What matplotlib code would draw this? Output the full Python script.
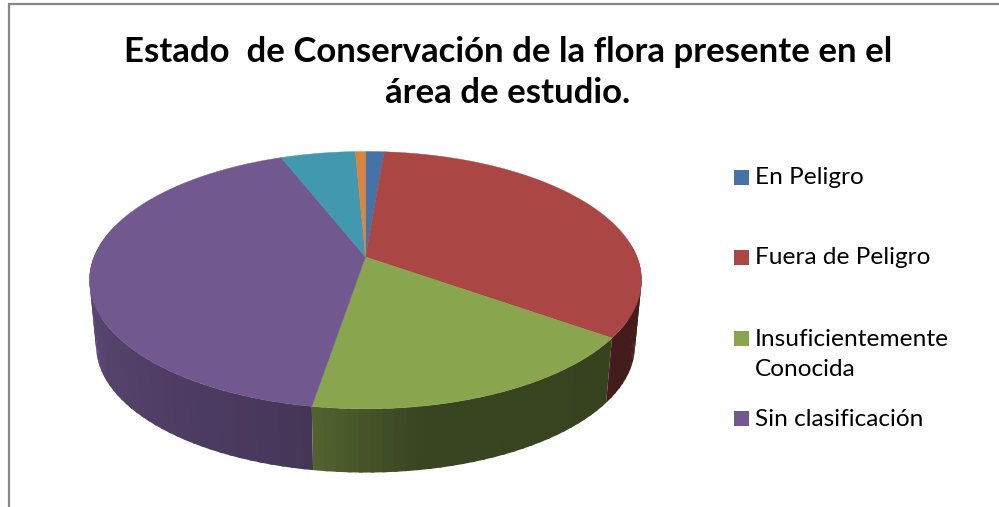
import numpy as np
import matplotlib
matplotlib.use('Agg')
import matplotlib.pyplot as plt
from matplotlib.patches import Polygon, Rectangle

# datos de la torta (porcentaje aprox.)
categorias = ['En Peligro', 'Fuera de Peligro', 'Insuficientemente\nConocida', 'Sin clasificación', 'Otros 1', 'Otros 2']
valores = [1.3, 33.6, 17.7, 41.5, 5.2, 0.7]
colores = ['#4572A7', '#AA4643', '#89A54E', '#71588F', '#4198AF', '#DB843D']
titulo = 'Estado  de Conservación de la flora presente en el\nárea de estudio.'

plt.rcParams['font.family'] = ['Lato', 'DejaVu Sans']

fig = plt.figure(figsize=(9.99, 5.07), dpi=100)
ax = fig.add_axes([0, 0, 1, 1])
ax.set_xlim(0, 999)
ax.set_ylim(507, 0)
ax.axis('off')

# perspectiva del disco
CX, CY = 365.5, 257.0
A, B, K = 271.5, 124.5, 0.18
ALTO, ESC_X, ESC_Y = 66.0, 0.976, 0.985


def borde(theta, inferior=False):
    u, v = np.sin(theta), np.cos(theta)
    w = 1 + K * v
    x, y = A * u / w, -B * v / w
    if inferior:
        return CX + ESC_X * x, CY + ALTO + ESC_Y * y
    return CX + x, CY + y


def oscurecer(color, f):
    return tuple(c * f for c in matplotlib.colors.to_rgb(color))


bordes = np.radians(np.concatenate([[0], np.cumsum(valores)]) * 3.6)

# lateral visible, con sombreado segun el angulo
# se dibuja de izquierda a derecha con solape para que no queden rayas
for i in reversed(range(len(colores))):
    col = colores[i]
    ini, fin = max(bordes[i], np.radians(85)), min(bordes[i + 1], np.radians(285))
    if fin <= ini:
        continue
    n = max(int(np.degrees(fin - ini) / 2), 2)
    ts = np.linspace(ini, fin, n + 1)
    for t0, t1 in zip(ts[:-1][::-1], ts[1:][::-1]):
        arco = np.linspace(max(t0 - 0.012, ini), t1, 4)
        x0, y0 = borde(arco)
        x1, y1 = borde(arco[::-1], True)
        f = np.interp(np.degrees(t0), [95, 125, 170, 190, 268], [0.40, 0.40, 0.42, 0.62, 0.84])
        ax.add_patch(Polygon(np.column_stack([np.r_[x0, x1], np.r_[y0, y1]]),
                             closed=True, fc=oscurecer(col, f), ec='none'))

# cara superior
for i, col in enumerate(colores):
    ts = np.linspace(bordes[i], bordes[i + 1], 200)
    x, y = borde(ts)
    pts = np.column_stack([np.r_[CX, x], np.r_[CY, y]])
    ax.add_patch(Polygon(pts, closed=True, fc=col, ec=col, lw=0.3))

# marco del grafico
ax.plot([8.5, 8.5, 999], [507, 4, 4], color='#868686', lw=1.6, solid_joinstyle='miter')

ax.text(508, 72.5, titulo, ha='center', va='center', fontsize=25, fontweight='bold',
        color='black', linespacing=1.32)

# leyenda
filas_y = [177.5, 257.5, 338.5, 418.5]
for nombre, col, yy in zip(categorias[:4], colores[:4], filas_y):
    ax.add_patch(Rectangle((734, yy - 7.5), 15, 15, fc=col, ec='none'))
    yt = yy + 16 if '\n' in nombre else yy + 0.5
    ax.text(755, yt, nombre, ha='left', va='center', fontsize=17.6, color='black', linespacing=1.5)

fig.savefig('out.png', dpi=100)
plt.close(fig)
